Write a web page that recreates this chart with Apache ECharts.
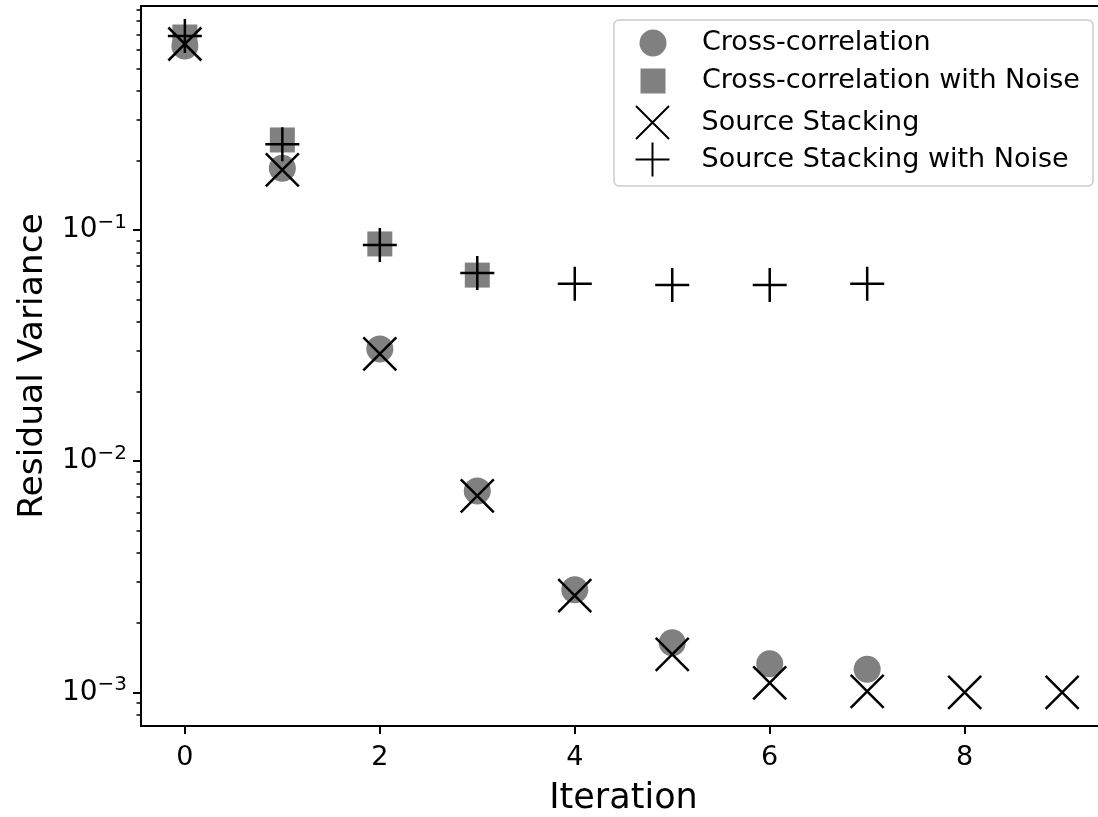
<!DOCTYPE html>
<html>
<head>
<meta charset="utf-8">
<script src="https://cdn.jsdelivr.net/npm/echarts@6/dist/echarts.min.js"></script>
<style>
  html, body { margin: 0; padding: 0; background: #fff; }
  #chart { width: 1098px; height: 817px; }
</style>
</head>
<body>
<div id="chart"></div>
<script>
// Residual variance per iteration for the four methods
const crossIter = [0, 1, 2, 3, 4, 5, 6, 7];
const crossVar = [0.624, 0.185, 0.0306, 0.00744, 0.00278, 0.00164, 0.00133, 0.00126];

const crossNoiseIter = [0, 1, 2, 3];
const crossNoiseVar = [0.683, 0.245, 0.087, 0.0638];

const stackIter = [0, 1, 2, 3, 4, 5, 6, 7, 8, 9];
const stackVar = [0.637, 0.182, 0.0291, 0.00708, 0.00262, 0.00146, 0.0011, 0.00101, 0.001, 0.001];

const stackNoiseIter = [0, 1, 2, 3, 4, 5, 6, 7];
const stackNoiseVar = [0.690, 0.235, 0.086, 0.0652, 0.0585, 0.0578, 0.0578, 0.0585];

const seriesNames = ['Cross-correlation', 'Cross-correlation with Noise', 'Source Stacking', 'Source Stacking with Noise'];

const xTicks = [0, 2, 4, 6, 8];
const yMajorTicks = [0.001, 0.01, 0.1];
const yMinorTicks = [0.0008, 0.0009,
  0.002, 0.003, 0.004, 0.005, 0.006, 0.007, 0.008, 0.009,
  0.02, 0.03, 0.04, 0.05, 0.06, 0.07, 0.08, 0.09,
  0.2, 0.3, 0.4, 0.5, 0.6, 0.7, 0.8, 0.9];

const FONT = 'DejaVu Sans';
const GRAY = '#808080';

function pairs(xs, ys) { return xs.map((x, i) => [x, ys[i]]); }

// legend icons laid out in an 88 x 36 box, centred at (44, 18)
const pad = 'M0,0M88,36';
const legendIcons = [
  'path://' + pad + 'M30.5,18A13.5,13.5 0 1 1 57.5,18A13.5,13.5 0 1 1 30.5,18Z',
  'path://' + pad + 'M31.5,5.5H56.5V30.5H31.5Z',
  'path://' + pad + 'M27.5,1.5L60.5,34.5M60.5,1.5L27.5,34.5',
  'path://' + pad + 'M44,1L44,35M27,18L61,18'
];
// one legend row per series, stacked inside the framed box
// (stroked icons carry extra bounds from their line width, hence the offsets)
const legendRowLefts = [609, 609, 606, 606];
const legendRowTops = [25, 63, 102, 139];

const crossMark = 'path://M0,0L10,10M10,0L0,10';
const plusMark = 'path://M5,0L5,10M0,5L10,5';

const chart = echarts.init(document.getElementById('chart'), null, { renderer: 'canvas' });

chart.setOption({
  animation: false,
  backgroundColor: '#fff',
  textStyle: { fontFamily: FONT, color: '#000' },
  grid: {
    left: 141, top: 6, right: -8, bottom: 91,
    outerBoundsMode: 'none', containLabel: false,
    show: true, borderColor: '#000', borderWidth: 2, backgroundColor: 'transparent'
  },
  graphic: [{
    type: 'rect', z: 3,
    shape: { x: 614, y: 20, width: 479, height: 166, r: 5 },
    style: { fill: 'rgba(255,255,255,0.8)', stroke: '#cccccc', lineWidth: 1.5 }
  }],
  legend: seriesNames.map((n, i) => ({
    orient: 'vertical', left: legendRowLefts[i], top: legendRowTops[i], padding: 0, z: 4,
    itemWidth: 88, itemHeight: 36,
    textStyle: { fontFamily: FONT, fontSize: 27, color: '#000' },
    data: [{ name: n, icon: legendIcons[i] }]
  })),
  xAxis: {
    type: 'value', min: -0.45, max: 9.45,
    name: 'Iteration', nameLocation: 'middle', nameGap: 55,
    nameTextStyle: { fontFamily: FONT, fontSize: 35, color: '#000' },
    axisLine: { show: true, onZero: false, lineStyle: { color: '#000', width: 2 } },
    axisTick: { show: true, length: 8, lineStyle: { color: '#000', width: 2 }, customValues: xTicks },
    axisLabel: { fontFamily: FONT, fontSize: 27, color: '#000', margin: 18, customValues: xTicks },
    splitLine: { show: false }
  },
  yAxis: [{
    type: 'log', logBase: 10, min: 7.16e-4, max: 0.93,
    name: 'Residual Variance', nameLocation: 'middle', nameGap: 90, nameRotate: 90,
    nameTextStyle: { fontFamily: FONT, fontSize: 34.5, color: '#000' },
    axisLine: { show: true, onZero: false, lineStyle: { color: '#000', width: 2 } },
    axisTick: { show: true, length: 8, lineStyle: { color: '#000', width: 2 }, customValues: yMajorTicks },
    axisLabel: {
      margin: 14, customValues: yMajorTicks, color: '#000',
      formatter: v => '{b|10}{s|\u2212' + Math.round(-Math.log10(v)) + '}',
      rich: {
        b: { fontFamily: FONT, fontSize: 28, color: '#000' },
        s: { fontFamily: FONT, fontSize: 20, color: '#000', padding: [0, 0, 15, 0] }
      }
    },
    splitLine: { show: false }
  }, {
    type: 'log', logBase: 10, min: 7.16e-4, max: 0.93, position: 'left',
    axisLine: { show: false, onZero: false },
    axisTick: { show: true, length: 4.5, lineStyle: { color: '#000', width: 1.5 }, customValues: yMinorTicks },
    axisLabel: { show: false },
    splitLine: { show: false }
  }],
  series: [{
    name: seriesNames[0], type: 'scatter', yAxisIndex: 0,
    symbol: 'circle', symbolSize: 27,
    itemStyle: { color: GRAY, opacity: 1 },
    data: pairs(crossIter, crossVar)
  }, {
    name: seriesNames[1], type: 'scatter', yAxisIndex: 0,
    symbol: 'rect', symbolSize: 25,
    itemStyle: { color: GRAY, opacity: 1 },
    data: pairs(crossNoiseIter, crossNoiseVar)
  }, {
    name: seriesNames[2], type: 'scatter', yAxisIndex: 0,
    symbol: crossMark, symbolSize: 33,
    itemStyle: { color: 'none', borderColor: '#000', borderWidth: 2.5, opacity: 1 },
    data: pairs(stackIter, stackVar)
  }, {
    name: seriesNames[3], type: 'scatter', yAxisIndex: 0,
    symbol: plusMark, symbolSize: 34,
    itemStyle: { color: 'none', borderColor: '#000', borderWidth: 2.5, opacity: 1 },
    data: pairs(stackNoiseIter, stackNoiseVar)
  }]
});
</script>
</body>
</html>
